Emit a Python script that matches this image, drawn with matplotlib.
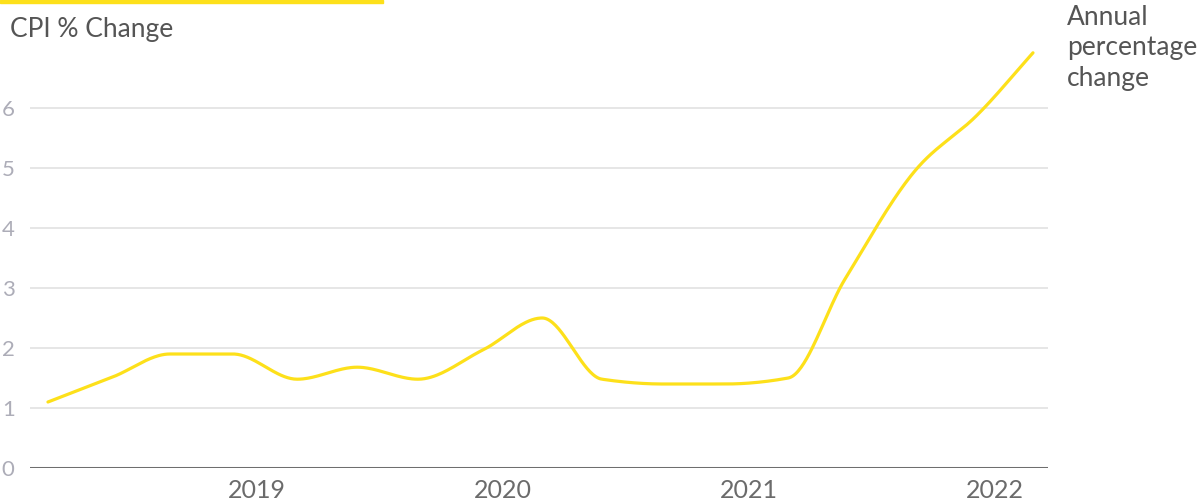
import matplotlib
matplotlib.use("Agg")
import matplotlib.pyplot as plt
import numpy as np

plt.rcParams["font.family"] = ["Lato", "DejaVu Sans"]

# quarterly CPI readings (x in decimal years)
dates = [2018.150, 2018.415, 2018.646, 2018.902, 2019.163, 2019.407, 2019.654,
         2019.919, 2020.159, 2020.402, 2020.650, 2020.902, 2021.159, 2021.390,
         2021.695, 2021.919, 2022.154]
cpi = [1.1, 1.52, 1.9, 1.9, 1.48, 1.68, 1.48, 1.97, 2.5, 1.48, 1.4, 1.4,
       1.5, 3.15, 5.05, 5.85, 6.92]
year_ticks = [2019, 2020, 2021, 2022]
y_ticks = [0, 1, 2, 3, 4, 5, 6]


def monotone(x, y, n=40):
    """Fritsch-Carlson monotone cubic, sampled densely between knots."""
    x = np.asarray(x, float); y = np.asarray(y, float)
    h = np.diff(x); d = np.diff(y) / h
    m = np.zeros_like(y)
    m[0], m[-1] = d[0], d[-1]
    for i in range(1, len(y) - 1):
        if d[i - 1] * d[i] > 0:
            w1 = 2 * h[i] + h[i - 1]; w2 = h[i] + 2 * h[i - 1]
            m[i] = (w1 + w2) / (w1 / d[i - 1] + w2 / d[i])
    xs, ys = [], []
    for i in range(len(h)):
        t = np.linspace(0, 1, n, endpoint=False)
        h00 = 2 * t**3 - 3 * t**2 + 1; h10 = t**3 - 2 * t**2 + t
        h01 = -2 * t**3 + 3 * t**2; h11 = t**3 - t**2
        xs.append(x[i] + t * h[i])
        ys.append(h00 * y[i] + h10 * h[i] * m[i] + h01 * y[i + 1] + h11 * h[i] * m[i + 1])
    xs.append([x[-1]]); ys.append([y[-1]])
    return np.concatenate(xs), np.concatenate(ys)


W, H = 1203, 503
fig = plt.figure(figsize=(W / 100, H / 100), dpi=100)
ax = fig.add_axes([30 / W, (H - 468) / H, 1018 / W, 420 / H])

sx, sy = monotone(dates, cpi)
ax.plot(sx, sy, color="#fde01a", lw=2.3, solid_capstyle="round", zorder=3)

ax.set_xlim(2018.077, 2022.215)
ax.set_ylim(0, 7)
ax.set_yticks(y_ticks)
ax.set_xticks(year_ticks)
ax.set_xticklabels([str(y) for y in year_ticks])
ax.grid(axis="y", color="#e6e6e6", lw=1.4)
ax.axhline(0, color="#6e6e6e", lw=2.2, zorder=2)
for s in ax.spines.values():
    s.set_visible(False)
ax.tick_params(axis="y", length=0, pad=11, labelsize=16, labelcolor="#adadb8")
ax.tick_params(axis="x", length=0, pad=8, labelsize=18, labelcolor="#6b6b6b")
for lab in ax.get_yticklabels():
    lab.set_horizontalalignment("right")

fig.text(10 / W, 1 - 29 / H, "CPI % Change", fontsize=19, color="#555555", va="center")
fig.text(1067 / W, 1 - 5 / H, "Annual\npercentage\nchange", fontsize=19,
         color="#555555", va="top", linespacing=1.27)
fig.patches.append(plt.Rectangle((0, 1 - 3 / H), 383 / W, 3 / H,
                                 transform=fig.transFigure, color="#fde01a"))

fig.savefig("out.png", dpi=100)
